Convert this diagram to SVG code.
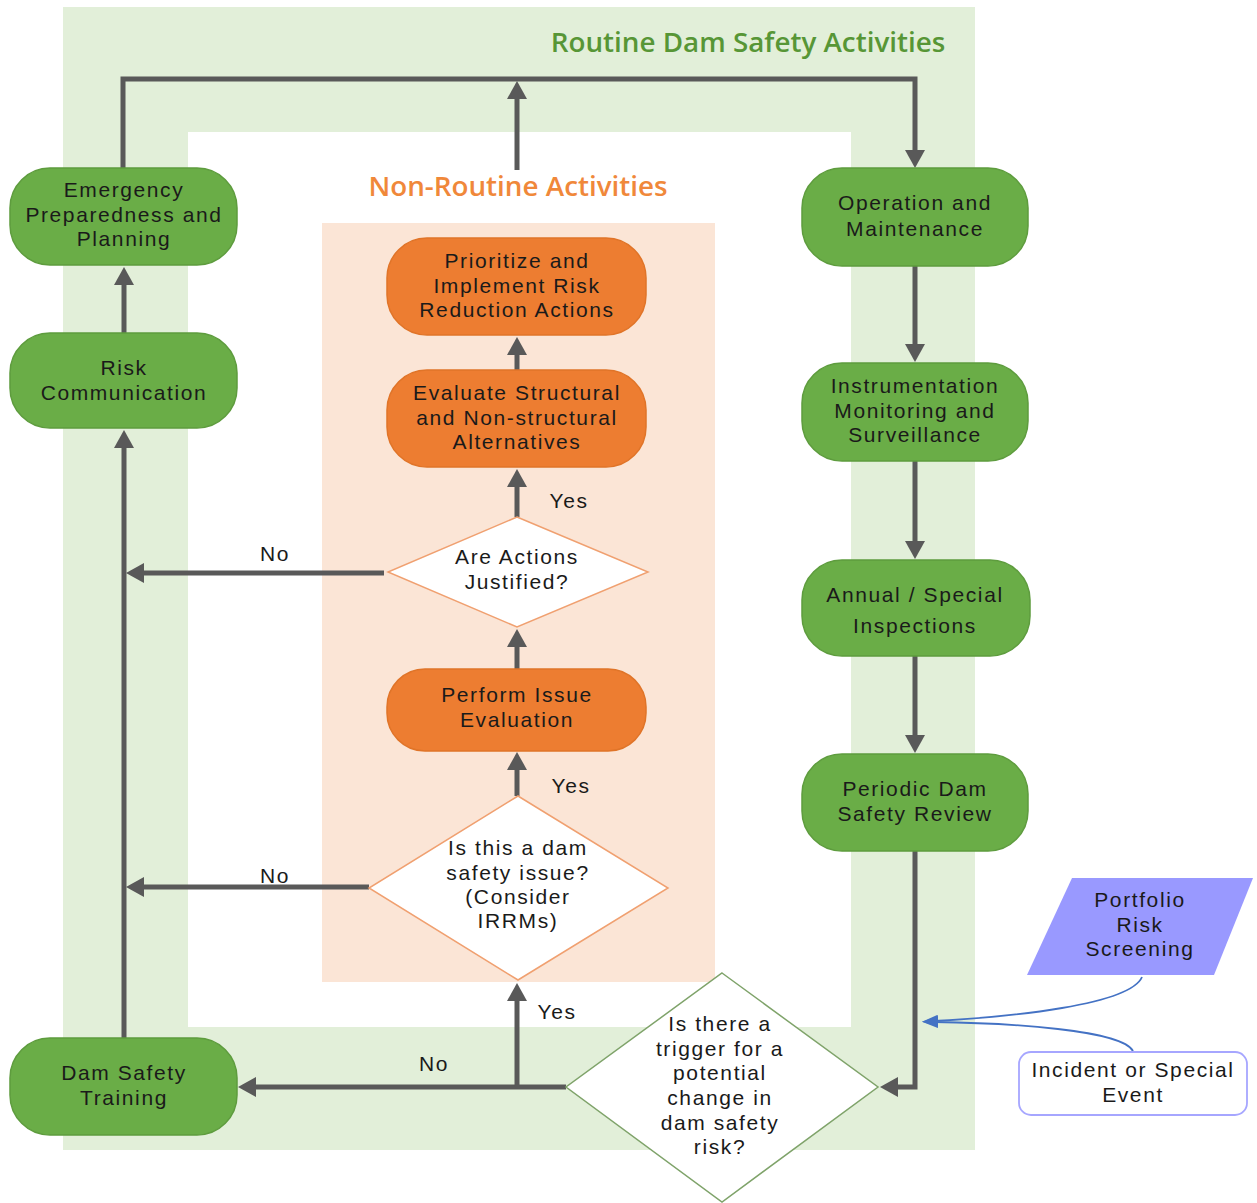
<svg xmlns="http://www.w3.org/2000/svg" width="1257" height="1203" viewBox="0 0 1257 1203">
<style>
text{font-family:"Liberation Sans","Noto Sans",sans-serif;font-size:21px;letter-spacing:1.6px;fill:#1a1a1a;text-anchor:middle}
.title{font-family:"Open Sans","Noto Sans",sans-serif;font-size:27.8px;font-weight:600;letter-spacing:0}
.g{fill:#6aad47;stroke:#5e9c3e;stroke-width:1.5}
.o{fill:#ed7d31;stroke:#e07428;stroke-width:1.5}
.c{fill:none;stroke:#595959;stroke-width:5}
.b{fill:none;stroke:#4472c4;stroke-width:1.8}
</style>
<defs>
<marker id="ah" markerUnits="userSpaceOnUse" markerWidth="20" markerHeight="20" refX="8" refY="10" orient="auto" viewBox="0 0 18 20">
<path d="M0,0 L18,10 L0,20 z" fill="#595959"/>
</marker>
<marker id="bh" markerUnits="userSpaceOnUse" markerWidth="16" markerHeight="12" refX="4" refY="6" orient="auto" viewBox="0 0 16 12">
<path d="M0,0 L16,6 L0,12 z" fill="#4472c4"/>
</marker>
</defs>
<rect width="1257" height="1203" fill="#ffffff"/>
<g id="backgrounds">
<rect x="63" y="7" width="912" height="1143" fill="#e2efd9"/>
<rect x="188" y="132" width="663" height="895" fill="#ffffff"/>
<rect x="322" y="223" width="393" height="759" fill="#fbe5d6"/>
<text class="title" x="748" y="52" style="fill:#579636">Routine Dam Safety Activities</text>
<text class="title" x="518" y="196" style="fill:#f0883a">Non-Routine Activities</text>
</g>
<g id="connectors">
<path class="c" d="M123,168 L123,79 L915,79 L915,158" marker-end="url(#ah)"/>
<path class="c" d="M517,170 L517,91" marker-end="url(#ah)"/>
<path class="c" d="M124,333 L124,277" marker-end="url(#ah)"/>
<path class="c" d="M124,1038 L124,440" marker-end="url(#ah)"/>
<path class="c" d="M384,573 L136,573" marker-end="url(#ah)"/>
<path class="c" d="M369,887 L136,887" marker-end="url(#ah)"/>
<path class="c" d="M566,1087 L248,1087" marker-end="url(#ah)"/>
<path class="c" d="M517,1087 L517,993" marker-end="url(#ah)"/>
<path class="c" d="M517,796 L517,762" marker-end="url(#ah)"/>
<path class="c" d="M517,669 L517,639" marker-end="url(#ah)"/>
<path class="c" d="M517,517 L517,479" marker-end="url(#ah)"/>
<path class="c" d="M517,370 L517,347" marker-end="url(#ah)"/>
<path class="c" d="M915,266 L915,352" marker-end="url(#ah)"/>
<path class="c" d="M915,461 L915,549" marker-end="url(#ah)"/>
<path class="c" d="M915,656 L915,743" marker-end="url(#ah)"/>
<path class="c" d="M915,851 L915,1087 L890,1087" marker-end="url(#ah)"/>
<path class="b" d="M1142,977 C1130,1005 1010,1017 934,1021" marker-end="url(#bh)"/>
<path class="b" d="M1133,1051 C1122,1030 1010,1023 934,1022" marker-end="url(#bh)"/>
<text x="275" y="561">No</text>
<text x="275" y="883">No</text>
<text x="434" y="1071">No</text>
<text x="569" y="508">Yes</text>
<text x="571" y="793">Yes</text>
<text x="557" y="1019">Yes</text>
</g>
<g id="n-emergency">
<rect class="g" x="10" y="168" width="227" height="97" rx="40"/>
<text x="124" y="197">Emergency</text>
<text x="124" y="222">Preparedness and</text>
<text x="124" y="246">Planning</text>
</g>
<g id="n-riskcomm">
<rect class="g" x="10" y="333" width="227" height="95" rx="40"/>
<text x="124" y="375">Risk</text>
<text x="124" y="400">Communication</text>
</g>
<g id="n-training">
<rect class="g" x="10" y="1038" width="227" height="97" rx="40"/>
<text x="124" y="1080">Dam Safety</text>
<text x="124" y="1105">Training</text>
</g>
<g id="n-om">
<rect class="g" x="802" y="168" width="226" height="98" rx="40"/>
<text x="915" y="210">Operation and</text>
<text x="915" y="236">Maintenance</text>
</g>
<g id="n-instr">
<rect class="g" x="802" y="363" width="226" height="98" rx="40"/>
<text x="915" y="393">Instrumentation</text>
<text x="915" y="418">Monitoring  and</text>
<text x="915" y="442">Surveillance</text>
</g>
<g id="n-annual">
<rect class="g" x="802" y="560" width="228" height="96" rx="40"/>
<text x="915" y="602">Annual / Special</text>
<text x="915" y="633">Inspections</text>
</g>
<g id="n-periodic">
<rect class="g" x="802" y="754" width="226" height="97" rx="40"/>
<text x="915" y="796">Periodic Dam</text>
<text x="915" y="821">Safety Review</text>
</g>
<g id="n-prioritize">
<rect class="o" x="387" y="238" width="259" height="97" rx="40"/>
<text x="517" y="268">Prioritize  and</text>
<text x="517" y="293">Implement  Risk</text>
<text x="517" y="317">Reduction Actions</text>
</g>
<g id="n-evaluate">
<rect class="o" x="387" y="370" width="259" height="97" rx="40"/>
<text x="517" y="400">Evaluate Structural</text>
<text x="517" y="425">and Non-structural</text>
<text x="517" y="449">Alternatives</text>
</g>
<g id="n-perform">
<rect class="o" x="387" y="669" width="259" height="82" rx="38"/>
<text x="517" y="702">Perform  Issue</text>
<text x="517" y="727">Evaluation</text>
</g>
<g id="n-justified">
<polygon points="517,517 648,572 517,627 388,572" fill="#ffffff" stroke="#f0a070" stroke-width="1.5"/>
<text x="517" y="564">Are Actions</text>
<text x="517" y="589">Justified?</text>
</g>
<g id="n-issue">
<polygon points="518,796 668,888 518,980 369,888" fill="#ffffff" stroke="#f0a070" stroke-width="1.5"/>
<text x="518" y="855">Is this a dam</text>
<text x="518" y="880">safety issue?</text>
<text x="518" y="904">(Consider</text>
<text x="518" y="928">IRRMs)</text>
</g>
<g id="n-trigger">
<polygon points="722,973 878,1087 722,1202 566,1087" fill="#ffffff" stroke="#7fa36a" stroke-width="1.5"/>
<text x="720" y="1031">Is there  a</text>
<text x="720" y="1056">trigger for a</text>
<text x="720" y="1080">potential</text>
<text x="720" y="1105">change in</text>
<text x="720" y="1130">dam safety</text>
<text x="720" y="1154">risk?</text>
</g>
<g id="n-portfolio">
<polygon points="1072,878 1253,878 1214,975 1027,975" fill="#9999ff"/>
<text x="1140" y="907">Portfolio</text>
<text x="1140" y="932">Risk</text>
<text x="1140" y="956">Screening</text>
</g>
<g id="n-incident">
<rect x="1019" y="1052" width="228" height="63" rx="12" fill="#ffffff" stroke="#a6a6ff" stroke-width="1.8"/>
<text x="1133" y="1077">Incident or Special</text>
<text x="1133" y="1102">Event</text>
</g>
</svg>
